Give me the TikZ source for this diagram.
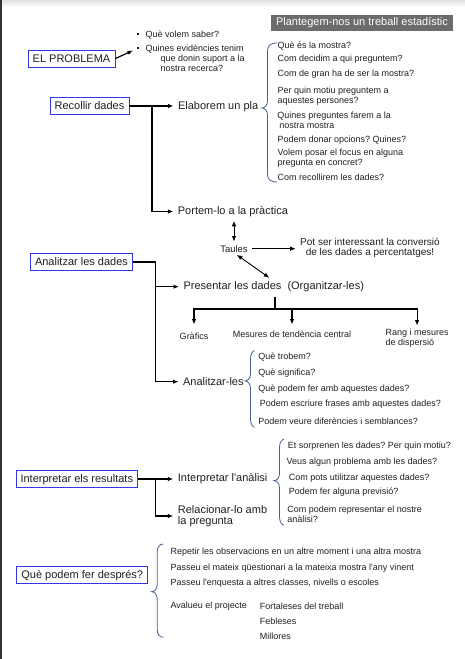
\documentclass[tikz,border=0pt]{standalone}
\usepackage{fontspec}
\setmainfont{Liberation Sans}
\usetikzlibrary{arrows.meta,positioning}
\frenchspacing

\definecolor{stageblue}{RGB}{50,55,230}
\definecolor{bracecol}{RGB}{70,95,145}
\definecolor{titlegray}{RGB}{108,108,108}

\newcommand{\fbig}{\fontsize{11}{12.5}\selectfont}
\newcommand{\fmid}{\fontsize{10}{10.6}\selectfont}
\newcommand{\frel}{\fontsize{11}{11.7}\selectfont}
\newcommand{\fsmall}{\fontsize{9}{10}\selectfont}
\newcommand{\bul}{\rule[2.3pt]{2pt}{2pt}\hspace{6.5pt}}
% curly bracket: tip x, top y, tip y, bottom y, width
\newcommand{\qbrace}[5]{%
  \draw[curly] (#1+#5,#2) .. controls (#1+8,#2) and (#1+5.5,#2+3) .. (#1+5.5,#2+8)
    -- (#1+5.5,#3-7) .. controls (#1+5.5,#3-2.5) and (#1+2.5,#3) .. (#1,#3)
    .. controls (#1+2.5,#3) and (#1+5.5,#3+2.5) .. (#1+5.5,#3+7)
    -- (#1+5.5,#4-8) .. controls (#1+5.5,#4-3) and (#1+8,#4) .. (#1+#5,#4);}

\begin{document}
\begin{tikzpicture}[x=1pt,y=-1pt,>={Latex[length=5.5pt,width=4.5pt]},line width=1.2pt,
  every node/.style={inner sep=0pt,text=black!88}]
  \tikzstyle{stage}=[draw=stageblue,line width=0.8pt,fill=white,minimum height=16.5pt,
    text height=8pt,text depth=0.5pt,font=\fbig]
  \tikzstyle{task}=[anchor=west,inner xsep=4pt,font=\fbig,align=left]
  \tikzstyle{qtext}=[anchor=west,font=\fsmall,align=left]
  \tikzstyle{ques}=[qtext,yshift=-1pt]
  \tikzstyle{curly}=[draw=bracecol,line width=0.8pt]
  \tikzstyle{link}=[line width=0.9pt]

  %--- Page ---
  \useasboundingbox (0,0) rectangle (465,659);
  \shade[top color=black!12,bottom color=white] (0,0) rectangle (465,7);
  \fill[black!80] (0,0) rectangle (1.6,659);

  %--- Title ---
  \node[fill=titlegray,text=white!93,font=\fbig,minimum width=182pt,minimum height=16pt]
    (title) at (362,23) {Plantegem-nos un treball estadístic};

  %--- El problema ---
  \node[stage,minimum width=87pt,minimum height=17pt] (prob) at (71.5,58.5) {EL PROBLEMA};
  \node[ques] (bul1) at (136.5,34) {\bul Què volem saber?};
  \node[ques] (bul2) at (136.5,57) {\bul Quines evidències tenim\\
    \hspace*{23.5pt}que donin suport a la\\\hspace*{23.5pt}nostra recerca?};
  \coordinate (bultip) at (133,50.5);

  %--- Recollir dades ---
  \node[stage,minimum width=79pt] (rec) at (89.5,106) {Recollir dades};
  \coordinate (jrec) at (152,106);
  \node[task] (ela) at (173.5,106.5) {Elaborem un pla};
  \node[task] (por) at (173.3,211.5) {Portem-lo a la pràctica};

  % questions of the plan
  \qbrace{262}{43}{108}{182}{15}
  \node[ques] (pq1) at (277,45.5) {Què és la mostra?};
  \node[ques] (pq2) at (277,58) {Com decidim a qui preguntem?};
  \node[ques] (pq3) at (277,73.5) {Com de gran ha de ser la mostra?};
  \node[ques] (pq4) at (277,95) {Per quin motiu preguntem a\\aquestes persones?};
  \node[ques] (pq5) at (276.7,119) {Quines preguntes farem a la\\\hspace*{2pt}nostra mostra};
  \node[ques] (pq6) at (277,138.7) {Podem donar opcions? Quines?};
  \node[ques] (pq7) at (277,157.3) {Volem posar el focus en alguna\\pregunta en concret?};
  \node[ques] (pq8) at (277,176.7) {Com recollirem les dades?};

  %--- Taules ---
  \node[font=\fontsize{9.5}{10}\selectfont] (tau) at (234,248.7) {Taules};
  \node[font=\fmid,align=center] (pot) at (370,248) {Pot ser interessant la conversió\\de les dades a percentatges!};

  %--- Analitzar les dades ---
  \node[stage,minimum width=101.6pt] (ana) at (81.5,262) {Analitzar les dades};
  \coordinate (jana) at (155.7,262);
  \node[task] (pres) at (179,286.7) {Presentar les dades\ \ (Organitzar-les)};
  \node[task] (anl) at (178.5,381.7) {Analitzar-les};
  \coordinate (jpres) at (275,309);
  \node[font=\fsmall] (graf) at (194,336) {Gràfics};
  \node[font=\fsmall] (mes) at (292,334.3) {Mesures de tendència central};
  \node[ques] (rang) at (385,336.7) {Rang i mesures\\de dispersió};

  % questions of the analysis
  \qbrace{245}{350.7}{381}{427.3}{9.5}
  \node[ques] (aq1) at (257.7,355.7) {Què trobem?};
  \node[ques] (aq2) at (257.7,372) {Què significa?};
  \node[ques] (aq3) at (257.7,387.7) {Què podem fer amb aquestes dades?};
  \node[ques] (aq4) at (259.3,403.3) {Podem escriure frases amb aquestes dades?};
  \node[ques] (aq5) at (257.7,420) {Podem veure diferències i semblances?};

  %--- Interpretar els resultats ---
  \node[stage,minimum width=121.7pt] (int) at (76.8,479) {Interpretar els resultats};
  \coordinate (jint) at (155.7,479);
  \node[task] (ian) at (173.3,478.7) {Interpretar l\textquotesingle anàlisi};
  \node[task,font=\frel] (rel) at (173.3,516) {Relacionar-lo amb\\la pregunta};

  \qbrace{274}{439.3}{480.7}{525}{10}
  \node[ques] (iq1) at (287.3,445) {Et sorprenen les dades? Per quin motiu?};
  \node[ques] (iq2) at (286,461) {Veus algun problema amb les dades?};
  \node[ques] (iq3) at (288.3,476.7) {Com pots utilitzar aquestes dades?};
  \node[ques] (iq4) at (288.3,491) {Podem fer alguna previsió?};
  \node[ques] (iq5) at (286.7,513.3) {Com podem representar el nostre\\anàlisi?};

  %--- Que podem fer despres ---
  \node[stage,minimum width=131pt] (aft) at (82.2,575) {Què podem fer després?};
  \qbrace{151.7}{544}{591.7}{637.3}{11.6}
  \node[ques] (dq1) at (170,550.7) {Repetir les observacions en un altre moment i una altra mostra};
  \node[ques] (dq2) at (170,566.7) {Passeu el mateix qüestionari a la mateixa mostra l\textquotesingle any vinent};
  \node[ques] (dq3) at (170,582) {Passeu l\textquotesingle enquesta a altres classes, nivells o escoles};
  \node[ques] (aval) at (170,605) {Avalueu el projecte};
  \node[qtext] (fort) [right=11.7pt of aval] {Fortaleses del treball};
  \node[qtext] (feb) [below=15pt of fort.west,anchor=west] {Febleses};
  \node[qtext] (mill) [below=15.7pt of feb.west,anchor=west] {Millores};

  %--- Connectors ---
  \draw[->] (prob.east) -- (bultip);
  \draw (rec.east) -- (jrec);
  \draw[->] (jrec) -- (jrec -| ela.west);
  \draw[->] (jrec) |- (por.west);
  \draw[<->,link,shorten <=3pt,shorten >=3.5pt] (tau.north) -- (tau.north |- por.south);
  \draw[->,link,shorten <=4pt,shorten >=4pt] (tau.east) -- (tau.east -| pot.west);
  \draw[<->,link,shorten <=3.5pt,shorten >=5.5pt] (tau.south) -- (pres.north);

  \draw (ana.east) -- (jana);
  \draw[->] (jana) |- (pres.west);
  \draw[->] (jana) |- (anl.west);
  \draw[line width=2.2pt,shorten <=4.5pt] (jpres |- pres.south) -- (jpres);
  \draw[->,shorten >=7.5pt] (jpres) -| (graf.north);
  \draw[->,shorten >=5.8pt] (jpres) -| (mes.north);
  \draw[->,shorten >=2.2pt] (jpres) -| (rang.north);

  \draw (int.east) -- (jint);
  \draw[->] (jint) -- (jint -| ian.west);
  \draw[->] (jint) |- (rel.west);
\end{tikzpicture}
\end{document}
